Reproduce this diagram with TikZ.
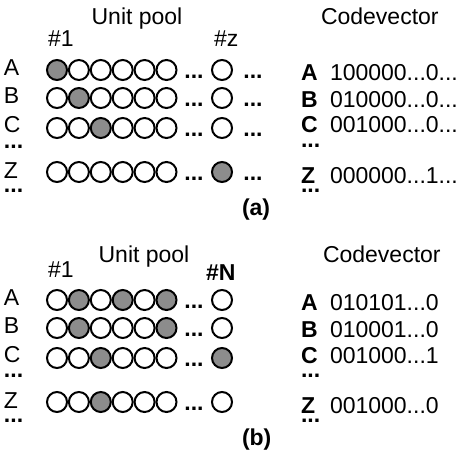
\documentclass[tikz,border=0pt]{standalone}
\usepackage{fontspec}
\setmainfont{Liberation Sans}
\definecolor{unitgray}{gray}{0.55}
\newcommand{\ellp}{...}

\begin{document}
\begin{tikzpicture}[x=1pt, y=-1pt, line width=2pt,
    unit/.style={circle, draw, fill=#1, minimum size=20pt, inner sep=0pt},
    txt/.style={anchor=base west, inner sep=0pt, font=\fontsize{23}{28}\selectfont},
    btxt/.style={txt, font=\fontsize{23}{28}\selectfont\bfseries}]
    \useasboundingbox (0,0) rectangle (462,460);

    % (a) one unit per symbol
    \node[txt, anchor=base] (titleA) at (137,25) {Unit pool};
    \node[txt] (firstA) at (47,47) {\#1};
    \node[txt] (lastA) at (213,47) {\#z};
    \node[txt] (codeA) at (320,25) {Codevector};
    \foreach \r/\y/\yl/\yc/\code/\bits in {
        A/70/75/80/100000\ellp0\ellp/{1,0,0,0,0,0,0},
        B/98/103/107/010000\ellp0\ellp/{0,1,0,0,0,0,0},
        C/128/132/132/001000\ellp0\ellp/{0,0,1,0,0,0,0},
        Z/172/178/183/000000\ellp1\ellp/{0,0,0,0,0,0,1}} {
        \node[txt] (a\r) at (3,\yl) {\r};
        \foreach \b [count=\i] in \bits {
            \ifnum\b=1 \def\fc{unitgray}\else\def\fc{white}\fi
            \pgfmathsetmacro\xx{\i<7 ? 57+21.9*(\i-1) : 222}
            \node[unit=\fc] (a\r\i) at (\xx,\y) {};
        }
        \node[btxt, anchor=base] (a\r dots) at (194,\y+8) {...};
        \node[btxt, anchor=base] (a\r tail) at (253,\y+8) {...};
        \node[btxt] (ak\r) at (300,\yc) {\r};
        \node[txt] (av\r) at (329,\yc) {\code};
    }
    \node[btxt] (aCmore) at (3,148) {...};
    \node[btxt] (aZmore) at (3,192) {...};
    \node[btxt] (akCmore) at (300,147) {...};
    \node[btxt] (akZmore) at (300,192) {...};
    \node[btxt] (labelA) at (241,215) {(a)};

    % (b) distributed code
    \node[txt, anchor=base] (titleB) at (144,262) {Unit pool};
    \node[txt] (firstB) at (47,277) {\#1};
    \node[btxt] (lastB) at (205,280) {\#N};
    \node[txt] (codeB) at (322,262) {Codevector};
    \foreach \r/\y/\yl/\yc/\code/\bits in {
        A/300/305/310/010101\ellp0/{0,1,0,1,0,1,0},
        B/328/333/337/010001\ellp0/{0,1,0,0,0,1,0},
        C/358/362/363/001000\ellp1/{0,0,1,0,0,0,1},
        Z/402/408/413/001000\ellp0/{0,0,1,0,0,0,0}} {
        \node[txt] (b\r) at (3,\yl) {\r};
        \foreach \b [count=\i] in \bits {
            \ifnum\b=1 \def\fc{unitgray}\else\def\fc{white}\fi
            \pgfmathsetmacro\xx{\i<7 ? 57+21.9*(\i-1) : 222}
            \node[unit=\fc] (b\r\i) at (\xx,\y) {};
        }
        \node[btxt, anchor=base] (b\r dots) at (194,\y+8) {...};
        \node[btxt] (bk\r) at (300,\yc) {\r};
        \node[txt] (bv\r) at (329,\yc) {\code};
    }
    \node[btxt] (bCmore) at (3,377) {...};
    \node[btxt] (bZmore) at (3,422) {...};
    \node[btxt] (bkCmore) at (300,377) {...};
    \node[btxt] (bkZmore) at (300,422) {...};
    \node[btxt] (labelB) at (241,445) {(b)};
\end{tikzpicture}
\end{document}
